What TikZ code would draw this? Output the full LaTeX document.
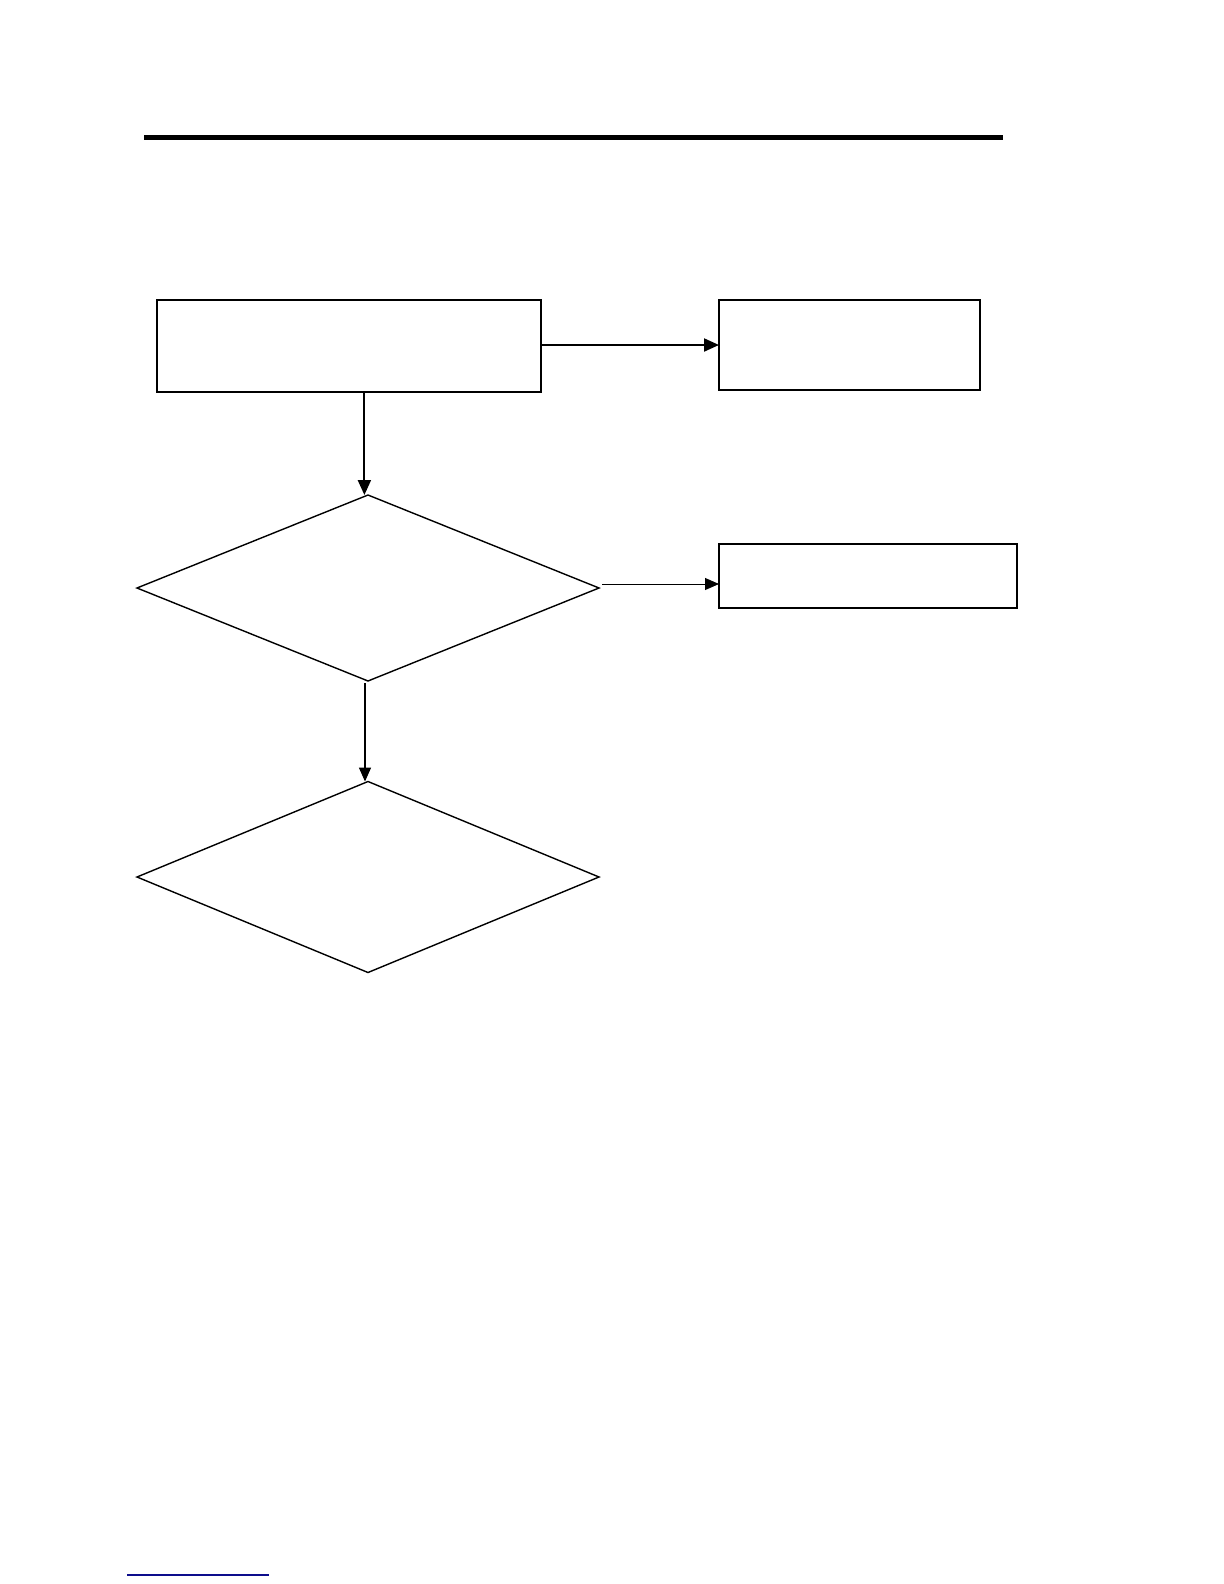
\documentclass[tikz,border=0pt]{standalone}
\usetikzlibrary{shapes.geometric,arrows.meta}
\begin{document}
\begin{tikzpicture}[
  boxnode/.style={draw,rectangle,line width=1pt,inner sep=0pt,outer sep=0pt},
  decnode/.style={draw,diamond,line width=0.7pt,inner sep=0pt,outer sep=0pt},
  arr/.style={-{Triangle[length=7.5pt,width=6.5pt]},line width=1.05pt},
  midarr/.style={-{Triangle[length=7pt,width=6pt]},line width=0.75pt},
  thinarr/.style={-{Triangle[length=7pt,width=6pt]},line width=0.45pt}
]
\useasboundingbox (0,0) rectangle (612pt,-792pt);
% top rule
\draw[line width=2.5pt] (72pt,-69pt) -- (501.5pt,-69pt);
% nodes
\node[boxnode,minimum width=192.25pt,minimum height=46pt] (b1) at (174.4pt,-173pt) {};
\node[boxnode,minimum width=130.5pt,minimum height=45pt] (b2) at (424.75pt,-172.5pt) {};
\node[boxnode,line width=0.8pt,minimum width=149pt,minimum height=32pt] (b3) at (434pt,-288pt) {};
\node[decnode,minimum width=231pt,minimum height=93pt] (d1) at (184pt,-294pt) {};
\node[decnode,minimum width=231pt,minimum height=95.5pt] (d2) at (184pt,-438.5pt) {};
% connectors
\draw[arr] ([yshift=0.5pt]b1.east) -- ([yshift=0.5pt]b1.east -| b2.west);
\draw[arr] ([xshift=-1.8pt]d1.north |- b1.south) -- ([xshift=-1.8pt]d1.north);
\draw[thinarr] ([shift={(1.5pt,2pt)}]d1.east) -- ([yshift=2pt]d1.east -| b3.west);
\draw[midarr] ([xshift=-1.5pt,yshift=-1pt]d1.south) -- ([xshift=-1.5pt]d2.north);
% footnote rule
\draw[line width=0.6pt,color={rgb,1:red,0.05;green,0.05;blue,0.55}] (63.5pt,-787.5pt) -- (134.5pt,-787.5pt);
\end{tikzpicture}
\end{document}
